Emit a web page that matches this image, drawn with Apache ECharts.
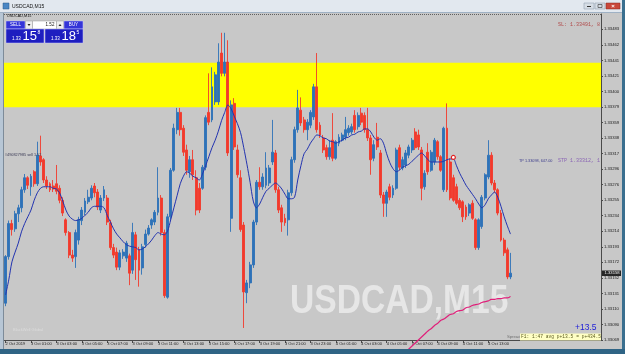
<!DOCTYPE html>
<html><head><meta charset="utf-8">
<script src="https://cdn.jsdelivr.net/npm/echarts@6/dist/echarts.min.js"></script>
<style>html,body{margin:0;padding:0;background:#c8c8c8;overflow:hidden}#c{width:625px;height:354px}</style>
</head><body><div id="c"></div>
<script>
// ---- bar times (M15), 160 real bars + empty future space ----
const barCount = 188;
const categories = Array.from({length: barCount}, (_, i) => {
  const d = new Date(Date.UTC(2019, 9, 2, 23, 0) + i * 15 * 60000);
  return d.toISOString().slice(0, 16).replace('T', ' ');
});
const timeLabels = ["2 Oct 2019","3 Oct 01:00","3 Oct 03:00","3 Oct 05:00","3 Oct 07:00","3 Oct 09:00","3 Oct 11:00","3 Oct 13:00","3 Oct 15:00","3 Oct 17:00","3 Oct 19:00","3 Oct 21:00","3 Oct 23:00","4 Oct 01:00","4 Oct 03:00","4 Oct 05:00","4 Oct 07:00","4 Oct 09:00","4 Oct 11:00","4 Oct 13:00"];

const opens = [
1.33118,1.33180,1.33224,1.33217,1.33237,1.33245,1.33269,1.33285,1.33273,1.33293,
1.33277,1.33314,1.33309,1.33282,1.33277,1.33274,1.33277,1.33271,1.33255,1.33229,
1.33212,1.33182,1.33180,1.33202,1.33228,1.33239,1.33253,1.33258,1.33274,1.33266,
1.33242,1.33258,1.33258,1.33225,1.33192,1.33186,1.33166,1.33181,1.33178,1.33181,
1.33162,1.33209,1.33189,1.33165,1.33196,1.33210,1.33222,1.33226,1.33239,1.33258,
1.33212,1.33126,1.33233,1.33295,1.33349,1.33372,1.33351,1.33322,1.33293,1.33309,
1.33285,1.33271,1.33271,1.33299,1.33372,1.33362,1.33386,1.33386,1.33451,1.33424,
1.33439,1.33231,1.33384,1.33322,1.33285,1.33222,1.33132,1.33145,1.33169,1.33226,
1.33279,1.33273,1.33275,1.33278,1.33306,1.33318,1.33269,1.33245,1.33231,1.33229,
1.33265,1.33309,1.33349,1.33375,1.33362,1.33349,1.33355,1.33366,1.33406,1.33355,
1.33338,1.33325,1.33313,1.33335,1.33311,1.33331,1.33335,1.33339,1.33345,1.33346,
1.33368,1.33353,1.33371,1.33368,1.33349,1.33338,1.33311,1.33339,1.33318,1.33262,
1.33251,1.33273,1.33262,1.33271,1.33325,1.33298,1.33302,1.33315,1.33322,1.33346,
1.33342,1.33322,1.33273,1.33319,1.33295,1.33306,1.33333,1.33313,1.33269,1.33351,
1.33306,1.33285,1.33273,1.33255,1.33253,1.33246,1.33238,1.33251,1.33229,1.33192,
1.33220,1.33258,1.33286,1.33315,1.33278,1.33269,1.33238,1.33202,1.33189,1.33153];
const closes = [
1.33180,1.33224,1.33216,1.33237,1.33245,1.33269,1.33285,1.33275,1.33287,1.33277,
1.33315,1.33306,1.33282,1.33274,1.33269,1.33270,1.33267,1.33255,1.33238,1.33212,
1.33182,1.33178,1.33212,1.33229,1.33242,1.33254,1.33259,1.33271,1.33265,1.33246,
1.33258,1.33269,1.33226,1.33192,1.33182,1.33166,1.33185,1.33186,1.33198,1.33158,
1.33212,1.33176,1.33162,1.33193,1.33210,1.33218,1.33229,1.33239,1.33258,1.33212,
1.33128,1.33233,1.33295,1.33351,1.33372,1.33349,1.33319,1.33295,1.33309,1.33289,
1.33242,1.33242,1.33299,1.33365,1.33359,1.33406,1.33422,1.33439,1.33424,1.33439,
1.33318,1.33382,1.33326,1.33289,1.33216,1.33133,1.33145,1.33169,1.33226,1.33279,
1.33273,1.33286,1.33298,1.33298,1.33319,1.33269,1.33242,1.33226,1.33225,1.33265,
1.33309,1.33349,1.33378,1.33358,1.33349,1.33359,1.33372,1.33406,1.33349,1.33342,
1.33322,1.33313,1.33325,1.33311,1.33333,1.33339,1.33342,1.33349,1.33351,1.33353,
1.33349,1.33368,1.33359,1.33349,1.33338,1.33309,1.33329,1.33326,1.33262,1.33251,
1.33266,1.33259,1.33271,1.33322,1.33299,1.33309,1.33318,1.33326,1.33335,1.33325,
1.33326,1.33271,1.33291,1.33293,1.33319,1.33335,1.33313,1.33295,1.33351,1.33269,
1.33258,1.33255,1.33251,1.33245,1.33233,1.33233,1.33249,1.33231,1.33192,1.33229,
1.33259,1.33289,1.33315,1.33278,1.33269,1.33238,1.33202,1.33185,1.33153,1.33158];
const lows = [
1.33114,1.33176,1.33208,1.33213,1.33226,1.33239,1.33265,1.33270,1.33261,1.33273,
1.33274,1.33301,1.33278,1.33270,1.33266,1.33266,1.33263,1.33251,1.33234,1.33208,
1.33178,1.33173,1.33165,1.33196,1.33222,1.33235,1.33250,1.33255,1.33259,1.33242,
1.33238,1.33254,1.33222,1.33189,1.33178,1.33162,1.33162,1.33177,1.33173,1.33142,
1.33157,1.33149,1.33140,1.33156,1.33192,1.33208,1.33217,1.33222,1.33235,1.33208,
1.33125,1.33124,1.33229,1.33293,1.33343,1.33341,1.33314,1.33289,1.33285,1.33282,
1.33235,1.33238,1.33269,1.33295,1.33355,1.33359,1.33382,1.33382,1.33420,1.33420,
1.33314,1.33213,1.33322,1.33285,1.33213,1.33085,1.33118,1.33138,1.33165,1.33222,
1.33269,1.33269,1.33271,1.33274,1.33302,1.33265,1.33238,1.33213,1.33221,1.33208,
1.33261,1.33305,1.33345,1.33354,1.33345,1.33335,1.33351,1.33362,1.33345,1.33338,
1.33318,1.33309,1.33309,1.33307,1.33309,1.33327,1.33333,1.33335,1.33341,1.33343,
1.33345,1.33349,1.33355,1.33345,1.33334,1.33289,1.33307,1.33322,1.33258,1.33233,
1.33233,1.33255,1.33258,1.33269,1.33295,1.33295,1.33298,1.33311,1.33318,1.33322,
1.33322,1.33255,1.33269,1.33289,1.33293,1.33302,1.33309,1.33293,1.33266,1.33266,
1.33255,1.33253,1.33249,1.33242,1.33226,1.33229,1.33234,1.33229,1.33189,1.33189,
1.33217,1.33255,1.33283,1.33275,1.33265,1.33235,1.33200,1.33181,1.33150,1.33150];
const highs = [
1.33182,1.33228,1.33229,1.33241,1.33249,1.33273,1.33290,1.33287,1.33290,1.33295,
1.33333,1.33341,1.33311,1.33287,1.33279,1.33282,1.33302,1.33275,1.33259,1.33231,
1.33214,1.33189,1.33216,1.33233,1.33246,1.33258,1.33269,1.33275,1.33278,1.33270,
1.33262,1.33274,1.33262,1.33229,1.33197,1.33192,1.33189,1.33190,1.33201,1.33184,
1.33225,1.33213,1.33193,1.33197,1.33216,1.33222,1.33231,1.33242,1.33299,1.33262,
1.33216,1.33237,1.33298,1.33357,1.33378,1.33378,1.33355,1.33329,1.33314,1.33322,
1.33295,1.33278,1.33302,1.33368,1.33424,1.33432,1.33426,1.33464,1.33478,1.33478,
1.33468,1.33388,1.33391,1.33329,1.33295,1.33226,1.33149,1.33173,1.33229,1.33282,
1.33299,1.33291,1.33319,1.33302,1.33362,1.33322,1.33273,1.33249,1.33237,1.33269,
1.33313,1.33353,1.33402,1.33392,1.33366,1.33363,1.33375,1.33410,1.33451,1.33359,
1.33342,1.33329,1.33335,1.33371,1.33335,1.33343,1.33345,1.33366,1.33355,1.33357,
1.33375,1.33372,1.33378,1.33372,1.33378,1.33342,1.33335,1.33358,1.33322,1.33266,
1.33269,1.33277,1.33275,1.33325,1.33329,1.33313,1.33322,1.33329,1.33338,1.33351,
1.33349,1.33326,1.33295,1.33331,1.33322,1.33338,1.33335,1.33315,1.33353,1.33384,
1.33311,1.33289,1.33277,1.33258,1.33255,1.33249,1.33251,1.33255,1.33231,1.33231,
1.33262,1.33291,1.33335,1.33319,1.33282,1.33271,1.33242,1.33205,1.33192,1.33185];
// moving average line as drawn on the chart
const movingAvg = [
1.33129,1.33149,1.33173,1.33186,1.33198,1.33213,1.33224,1.33233,1.33242,1.33255,
1.33265,1.33271,1.33273,1.33273,1.33273,1.33271,1.33270,1.33265,1.33254,1.33242,
1.33234,1.33230,1.33228,1.33229,1.33231,1.33235,1.33239,1.33245,1.33247,1.33247,
1.33247,1.33245,1.33235,1.33226,1.33217,1.33210,1.33205,1.33200,1.33196,1.33194,
1.33193,1.33192,1.33189,1.33190,1.33193,1.33197,1.33202,1.33208,1.33212,1.33210,
1.33209,1.33214,1.33229,1.33245,1.33261,1.33277,1.33287,1.33293,1.33291,1.33287,
1.33285,1.33282,1.33290,1.33301,1.33313,1.33325,1.33335,1.33347,1.33361,1.33372,
1.33382,1.33377,1.33367,1.33357,1.33345,1.33325,1.33303,1.33279,1.33254,1.33245,
1.33250,1.33259,1.33267,1.33271,1.33275,1.33278,1.33275,1.33270,1.33263,1.33257,
1.33257,1.33259,1.33282,1.33301,1.33317,1.33323,1.33331,1.33337,1.33342,1.33341,
1.33338,1.33337,1.33334,1.33333,1.33331,1.33333,1.33335,1.33338,1.33339,1.33342,
1.33343,1.33346,1.33347,1.33350,1.33350,1.33346,1.33339,1.33335,1.33337,1.33331,
1.33317,1.33305,1.33297,1.33293,1.33295,1.33299,1.33301,1.33303,1.33307,1.33311,
1.33315,1.33318,1.33314,1.33309,1.33306,1.33306,1.33306,1.33306,1.33307,1.33309,
1.33310,1.33310,1.33301,1.33291,1.33283,1.33275,1.33269,1.33263,1.33257,1.33250,
1.33245,1.33249,1.33257,1.33262,1.33266,1.33259,1.33247,1.33233,1.33221,1.33210];
// magenta curve at the bottom right (starts at bar 125)
const curveStart = 125;
const curveValues = [1.33049,1.33053,1.33057,1.33061,1.33065,1.33069,1.33073,1.33077,1.33081,1.33084,
1.33088,1.33091,1.33095,1.33097,1.33100,1.33103,1.33104,1.33107,1.33108,1.33109,
1.33112,1.33113,1.33115,1.33116,1.33117,1.33119,1.33120,1.33121,1.33123,1.33123,
1.33124,1.33124,1.33125,1.33125,1.33127];
// price levels
const slLevel = 1.33494;
const upperLine = 1.33441;
const zoneTop = 1.33438, zoneBottom = 1.33379;
const orderLevel = 1.33312;
const orderBar = 141;
const lowerLine = 1.33225;
const bidLevel = 1.33158;
// price axis
const yMin = 1.33069, yMax = 1.33503, yStep = 0.0002068;

const SANS = '"Liberation Sans", Arial, sans-serif';
const MONO = '"Liberation Mono", "DejaVu Sans Mono", monospace';
const labelEvery = 8;
const showTime = (i) => i % labelEvery === 0 && i / labelEvery < timeLabels.length;

const candleData = opens.map((o, i) => [o, closes[i], lows[i], highs[i]]);
const curveData = categories.map((_, i) => (i >= curveStart && i - curveStart < curveValues.length) ? curveValues[i - curveStart] : null);

const chart = echarts.init(document.getElementById('c'), null, {renderer: 'canvas', width: 625, height: 354});
chart.setOption({
  animation: false,
  backgroundColor: '#c8c8c8',
  grid: {left: 4, right: 24, top: 14, bottom: 14},
  xAxis: {
    type: 'category', data: categories, boundaryGap: true,
    axisLine: {show: true, lineStyle: {color: '#4a4a4a', width: 1}},
    axisTick: {show: true, alignWithLabel: true, interval: (i) => showTime(i), length: 3, lineStyle: {color: '#4a4a4a'}},
    axisLabel: {show: true, interval: (i) => showTime(i), formatter: (v) => timeLabels[categories.indexOf(v) / labelEvery],
      align: 'left', margin: 2, fontSize: 4, color: '#1a1a1a', fontFamily: SANS},
    splitLine: {show: false}
  },
  yAxis: {
    type: 'value', position: 'right', min: yMin, max: yMax, interval: yStep,
    axisLine: {show: true, lineStyle: {color: '#4a4a4a'}},
    axisTick: {show: true, length: 2, lineStyle: {color: '#4a4a4a'}},
    axisLabel: {fontSize: 4.2, color: '#1a1a1a', margin: 3, fontFamily: SANS, formatter: (v) => v.toFixed(5), showMaxLabel: false},
    splitLine: {show: false}
  },
  series: [
    {type: 'line', name: 'zone', data: [], z: 1, silent: true,
      markArea: {silent: true, itemStyle: {color: '#ffff00'}, data: [[{yAxis: zoneTop}, {yAxis: zoneBottom}]]},
      markLine: {silent: true, symbol: ['none', 'none'], label: {show: false},
        data: [
          {yAxis: upperLine, lineStyle: {color: '#3d7fd6', width: 1.2, type: 'solid'}},
          {yAxis: lowerLine, lineStyle: {color: '#3d7fd6', width: 1.2, type: 'solid'}},
          {yAxis: bidLevel, lineStyle: {color: '#6a6a6a', width: 1, type: 'solid'}}
        ]}
    },
    {type: 'candlestick', name: 'USDCAD', data: candleData, z: 3, barWidth: 2.4,
      itemStyle: {color: '#2e72b8', color0: '#f23a2c', borderColor: '#2e72b8', borderColor0: '#f23a2c', borderWidth: 0.9}},
    {type: 'line', name: 'MA', data: movingAvg, z: 4, symbol: 'none', smooth: 0.3,
      lineStyle: {color: '#2233b0', width: 1}},
    {type: 'line', name: 'curve', data: curveData, z: 5, symbol: 'none', smooth: true, clip: false,
      lineStyle: {color: '#e0207a', width: 1.2}},
    {type: 'line', name: 'levels', data: [], z: 6, silent: true,
      markLine: {silent: true, symbol: ['none', 'none'], label: {show: false},
        data: [
          {yAxis: slLevel, lineStyle: {color: '#c85a5a', width: 1, type: [4, 3]}},
          {yAxis: orderLevel, lineStyle: {color: '#9a86b8', width: 1, type: [4, 3]}}
        ]},
      markPoint: {silent: true, symbol: 'circle', symbolSize: 4, label: {show: false},
        itemStyle: {color: '#ffffff', borderColor: '#e02020', borderWidth: 1.2},
        data: [{coord: [categories[orderBar], orderLevel]}]}
    }
  ],
  graphic: [
    // watermark
    {type: 'text', z: 1, silent: true, x: 290, y: 302, scaleX: 0.84, style: {x: 0, y: 0, text: 'USDCAD,M15', fill: '#e6e6e6',
      font: 'bold 40px "Liberation Sans", Arial, sans-serif', verticalAlign: 'middle'}},
    {type: 'text', z: 1, silent: true, style: {x: 13, y: 330, text: 'BlackWell Global', fill: '#dcdcdc', font: '4px ' + SANS, verticalAlign: 'middle'}},
    // window chrome
    {type: 'rect', z: 50, shape: {x: 0, y: 0, width: 625, height: 13}, style: {fill: '#e2e8ef'}},
    {type: 'rect', z: 50, shape: {x: 0, y: 12, width: 625, height: 1}, style: {fill: '#9fb1c4'}},
    {type: 'rect', z: 51, shape: {x: 3, y: 3, width: 6, height: 6}, style: {fill: '#4a86c4', stroke: '#2a5a8a', lineWidth: 0.5}},
    {type: 'text', z: 51, style: {x: 12, y: 7, text: 'USDCAD,M15', fill: '#111', font: '5px ' + SANS, verticalAlign: 'middle'}},
    {type: 'rect', z: 51, shape: {x: 584, y: 3, width: 10, height: 6}, style: {fill: '#d6dde5', stroke: '#8796a6', lineWidth: 0.5}},
    {type: 'rect', z: 51, shape: {x: 595, y: 3, width: 10, height: 6}, style: {fill: '#d6dde5', stroke: '#8796a6', lineWidth: 0.5}},
    {type: 'rect', z: 51, shape: {x: 606, y: 3, width: 14, height: 6}, style: {fill: '#c9473a', stroke: '#8a2a20', lineWidth: 0.5}},
    {type: 'text', z: 52, style: {x: 613, y: 6, text: '×', fill: '#fff', font: 'bold 6px ' + SANS, align: 'center', verticalAlign: 'middle'}},
    {type: 'rect', z: 52, shape: {x: 587, y: 6, width: 4, height: 1}, style: {fill: '#333'}},
    {type: 'rect', z: 52, shape: {x: 598, y: 4.5, width: 4, height: 3}, style: {fill: 'none', stroke: '#333', lineWidth: 0.6}},
    {type: 'rect', z: 50, shape: {x: 0, y: 13, width: 3, height: 341}, style: {fill: '#b7c6d5'}},
    {type: 'rect', z: 50, shape: {x: 3, y: 13, width: 1, height: 336}, style: {fill: '#7d8b99'}},
    {type: 'rect', z: 50, shape: {x: 622, y: 0, width: 3, height: 354}, style: {fill: '#3a6f8f'}},
    {type: 'rect', z: 50, shape: {x: 0, y: 349, width: 625, height: 5}, style: {fill: '#2f6485'}},
    {type: 'line', z: 10, shape: {x1: 4, y1: 14.5, x2: 601, y2: 14.5}, style: {stroke: '#444', lineWidth: 0.8, lineDash: [1, 1]}},
    // chart symbol label
    {type: 'text', z: 60, style: {x: 7, y: 16, text: 'USDCAD,M15', fill: '#111', font: '3.8px ' + SANS, verticalAlign: 'middle'}},
    // one-click trading panel
    {type: 'rect', z: 60, shape: {x: 6, y: 21, width: 19, height: 8}, style: {fill: '#3434d8', stroke: '#c8c8ff', lineWidth: 0.5}},
    {type: 'text', z: 61, style: {x: 15.5, y: 25, text: 'SELL', fill: '#fff', font: '4.5px ' + SANS, align: 'center', verticalAlign: 'middle'}},
    {type: 'rect', z: 60, shape: {x: 25.5, y: 21, width: 7, height: 8}, style: {fill: '#eeeeee', stroke: '#999', lineWidth: 0.5}},
    {type: 'polygon', z: 61, shape: {points: [[27.5, 24], [30.5, 24], [29, 26]]}, style: {fill: '#222'}},
    {type: 'rect', z: 60, shape: {x: 32.5, y: 21, width: 24, height: 8}, style: {fill: '#ffffff', stroke: '#999', lineWidth: 0.5}},
    {type: 'text', z: 61, style: {x: 50, y: 25, text: '1.52', fill: '#111', font: '4.5px ' + SANS, align: 'center', verticalAlign: 'middle'}},
    {type: 'rect', z: 60, shape: {x: 56.5, y: 21, width: 7, height: 8}, style: {fill: '#eeeeee', stroke: '#999', lineWidth: 0.5}},
    {type: 'polygon', z: 61, shape: {points: [[58.5, 26], [61.5, 26], [60, 24]]}, style: {fill: '#222'}},
    {type: 'rect', z: 60, shape: {x: 64, y: 21, width: 19, height: 8}, style: {fill: '#3434d8', stroke: '#c8c8ff', lineWidth: 0.5}},
    {type: 'text', z: 61, style: {x: 73.5, y: 25, text: 'BUY', fill: '#fff', font: '4.5px ' + SANS, align: 'center', verticalAlign: 'middle'}},
    {type: 'rect', z: 60, shape: {x: 6, y: 29, width: 38, height: 14}, style: {fill: '#1e1ec0', stroke: '#c8c8ff', lineWidth: 0.5}},
    {type: 'rect', z: 60, shape: {x: 45, y: 29, width: 38, height: 14}, style: {fill: '#1e1ec0', stroke: '#c8c8ff', lineWidth: 0.5}},
    {type: 'text', z: 61, style: {x: 12, y: 38.5, text: '1.33', fill: '#fff', font: '4.5px ' + SANS, verticalAlign: 'middle'}},
    {type: 'text', z: 61, style: {x: 22.5, y: 36.5, text: '15', fill: '#fff', font: '13px ' + SANS, verticalAlign: 'middle'}},
    {type: 'text', z: 61, style: {x: 37.5, y: 32.5, text: '8', fill: '#fff', font: '5px ' + SANS, verticalAlign: 'middle'}},
    {type: 'text', z: 61, style: {x: 51, y: 38.5, text: '1.33', fill: '#fff', font: '4.5px ' + SANS, verticalAlign: 'middle'}},
    {type: 'text', z: 61, style: {x: 61.5, y: 36.5, text: '18', fill: '#fff', font: '13px ' + SANS, verticalAlign: 'middle'}},
    {type: 'text', z: 61, style: {x: 76.5, y: 32.5, text: '5', fill: '#fff', font: '5px ' + SANS, verticalAlign: 'middle'}},
    // level texts
    {type: 'text', z: 60, style: {x: 600, y: 24.5, text: 'SL: 1.33491, 8', fill: '#b04848', font: '5px ' + MONO, align: 'right', verticalAlign: 'middle'}},
    {type: 'text', z: 60, style: {x: 5, y: 155, text: '#490827985 sell 1.52', fill: '#3a3a55', font: '3.8px ' + SANS, verticalAlign: 'middle'}},
    {type: 'text', z: 60, style: {x: 519, y: 161, text: 'TP 1.33098, 647.00', fill: '#3c3c8c', font: '3.8px ' + SANS, verticalAlign: 'middle'}},
    {type: 'text', z: 60, style: {x: 600, y: 161, text: 'STP 1.33312, 1', fill: '#8a64b4', font: '5px ' + MONO, align: 'right', verticalAlign: 'middle'}},
    // bid label on price scale
    {type: 'rect', z: 60, shape: {x: 602, y: 270.5, width: 19, height: 5.5}, style: {fill: '#262626'}},
    {type: 'text', z: 61, style: {x: 604.5, y: 273.3, text: '1.33158', fill: '#f0f0f0', font: '4.2px ' + SANS, verticalAlign: 'middle'}},
    // profit info
    {type: 'text', z: 60, style: {x: 575, y: 328, text: '+13.5', fill: '#1c1cd8', font: '8.5px ' + SANS, verticalAlign: 'middle'}},
    {type: 'text', z: 60, style: {x: 507, y: 337, text: 'Spread', fill: '#707070', font: '4.2px ' + SANS, verticalAlign: 'middle'}},
    {type: 'rect', z: 61, shape: {x: 520, y: 333.5, width: 81, height: 7}, style: {fill: '#ffffc4'}},
    {type: 'text', z: 62, style: {x: 521, y: 337, text: 'F1: 1:47 avg p+13.5 = p+434.5', fill: '#5a5a20', font: '4.6px ' + MONO, verticalAlign: 'middle'}}
  ]
});
</script></body></html>
